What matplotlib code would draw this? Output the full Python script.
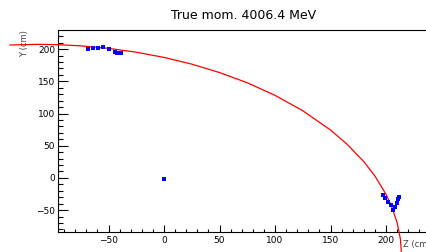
import matplotlib
matplotlib.use("Agg")
import matplotlib.pyplot as plt
from matplotlib.ticker import MultipleLocator

# fitted track (red)
track_z = [-138.7, -113.5, -95.5, -75, -50, -25, 0, 25, 50, 75, 100, 125,
           150, 165, 180, 190, 200, 205, 210, 213, 213.8]
track_y = [206.5, 207.5, 207.0, 205.2, 201.3, 195.3, 187.2, 176.8, 163.7, 147.8, 128.3, 104.4,
           74.4, 52.2, 25.2, 2.9, -25.5, -44.1, -69.5, -95.7, -115.0]

# hits (blue)
hit_z = [-68.7, -63.7, -59.7, -54.7, -49.3, -44.1, -42.6, -39.0,
         0.3,
         197.6, 199.1, 202.1, 204.2, 206.6, 208.1, 209.6, 211.1, 211.7]
hit_y = [200.3, 201.4, 202.3, 203.9, 200.3, 196.1, 193.6, 193.6,
         -1.5,
         -26.4, -31.5, -36.8, -41.9, -49.7, -44.6, -39.3, -33.1, -29.0]

fig = plt.figure(figsize=(4.26, 2.52), dpi=100)
ax = fig.add_axes([58/426, 20/252, (430-58)/426, (232-30)/252])

ax.plot(track_z, track_y, color="red", lw=0.9, clip_on=False, zorder=3)
ax.plot(hit_z, hit_y, ls="none", marker="s", ms=3, color="blue", mew=0, zorder=4)

ax.set_xlim(-95.5, 239.6)
ax.set_ylim(-84, 229.8)

ax.xaxis.set_major_locator(MultipleLocator(50))
ax.xaxis.set_minor_locator(MultipleLocator(10))
ax.yaxis.set_major_locator(MultipleLocator(50))
ax.yaxis.set_minor_locator(MultipleLocator(10))
ax.tick_params(axis="x", which="major", direction="in", length=5, width=0.8, labelsize=6.5, pad=3, top=False)
ax.tick_params(axis="x", which="minor", direction="in", length=2.5, width=0.8, top=False)
ax.tick_params(axis="y", which="major", direction="in", length=7, width=0.8, labelsize=6.5, pad=2, right=False)
ax.tick_params(axis="y", which="minor", direction="in", length=3.5, width=0.8, right=False)
ax.spines["right"].set_visible(False)
for s in ax.spines.values():
    s.set_linewidth(0.8)

ax.set_title("True mom. 4006.4 MeV", fontsize=9, pad=8)
fig.text(25/426, 1 - 30/252, "Y (cm)", rotation=90, ha="center", va="top", fontsize=6, color="#444444")
fig.text(403/426, 1 - 245/252, "Z (cm)", ha="left", va="center", fontsize=6, color="#444444")

fig.savefig("out.png", dpi=100)
